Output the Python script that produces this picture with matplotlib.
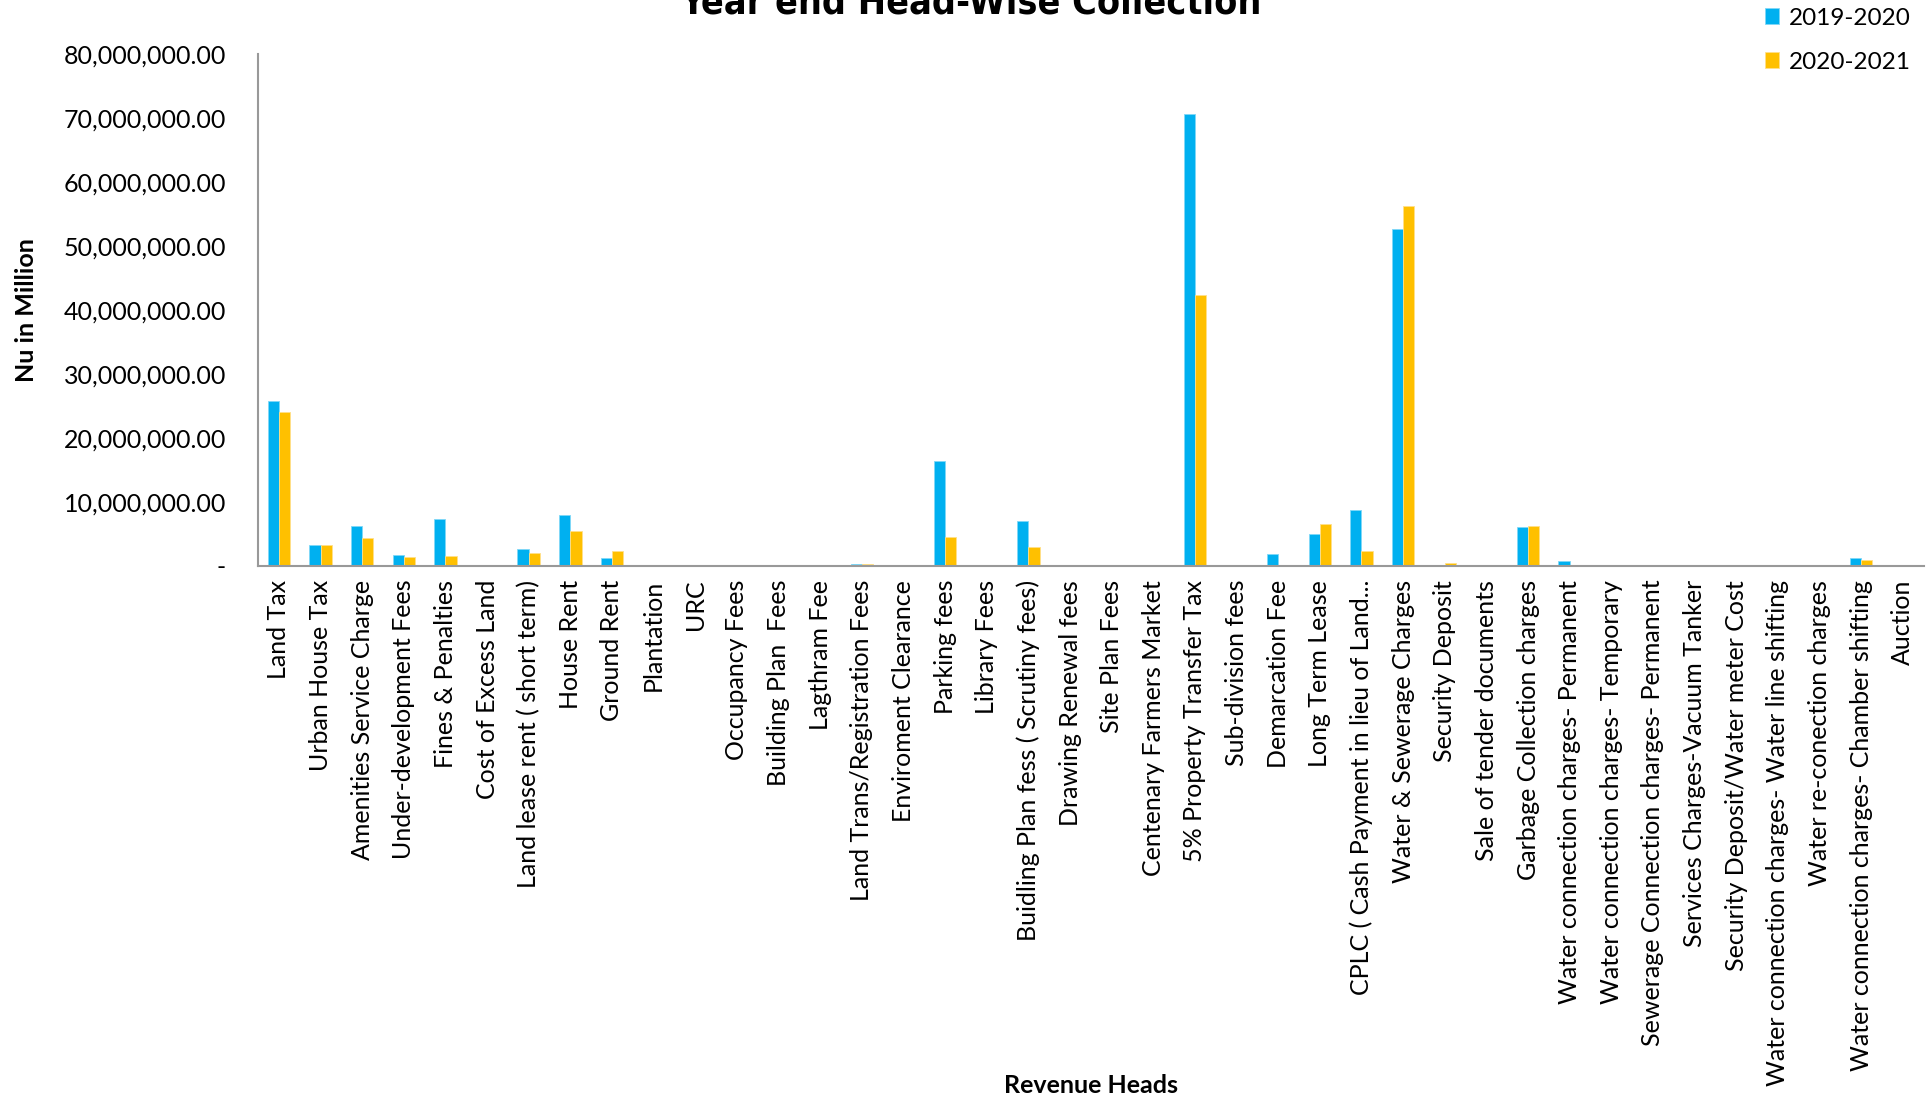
#!/usr/bin/env python3

import numpy as np
import matplotlib
matplotlib.use("Agg")
import matplotlib.pyplot as plt
from matplotlib.ticker import FuncFormatter

heads = [
    "Land Tax", "Urban House Tax", "Amenities Service Charge",
    "Under-development Fees", "Fines & Penalties", "Cost of Excess Land",
    "Land lease rent ( short term)", "House Rent", "Ground Rent",
    "Plantation", "URC", "Occupancy Fees", "Building Plan  Fees",
    "Lagthram Fee", "Land Trans/Registration Fees", "Enviroment Clearance",
    "Parking fees", "Library Fees", "Buidling Plan fess ( Scrutiny fees)",
    "Drawing Renewal fees", "Site Plan Fees", "Centenary Farmers Market",
    "5% Property Transfer Tax", "Sub-division fees", "Demarcation Fee",
    "Long Term Lease", "CPLC ( Cash Payment in lieu of Land...",
    "Water & Sewerage Charges", "Security Deposit",
    "Sale of tender documents", "Garbage Collection charges",
    "Water connection charges- Permanent",
    "Water connection charges- Temporary",
    "Sewerage Connection charges- Permanent",
    "Services Charges-Vacuum Tanker", "Security Deposit/Water meter Cost",
    "Water connection charges- Water line shifting",
    "Water re-conection charges",
    "Water connection charges- Chamber shifting", "Auction",
]

# values in Nu (in millions then scaled)
y2019_m = [25.8, 3.2, 6.25, 1.67, 7.3, 0.0, 2.65, 8.0, 1.25, 0.0,
           0.0, 0.15, 0.0, 0.05, 0.3, 0.03, 16.4, 0.0, 7.0, 0.0,
           0.0, 0.0, 70.6, 0.0, 1.9, 4.95, 8.7, 52.7, 0.0, 0.0,
           6.1, 0.8, 0.0, 0.0, 0.15, 0.12, 0.0, 0.0, 1.25, 0.0]
y2020_m = [24.0, 3.2, 4.3, 1.4, 1.6, 0.0, 2.0, 5.5, 2.4, 0.0,
           0.0, 0.15, 0.0, 0.05, 0.3, 0.05, 4.6, 0.0, 2.9, 0.0,
           0.0, 0.0, 42.3, 0.0, 0.15, 6.6, 2.4, 56.2, 0.5, 0.0,
           6.25, 0.1, 0.0, 0.05, 0.1, 0.0, 0.0, 0.0, 0.95, 0.0]
series = ["2019-2020", "2020-2021"]

y2019 = np.array(y2019_m) * 1e6
y2020 = np.array(y2020_m) * 1e6

blue = "#00B0F0"
gold = "#FFC000"

plt.rcParams["font.family"] = ["Lato", "DejaVu Sans"]

fig = plt.figure(figsize=(19.3, 11), dpi=100)
ax = fig.add_axes([0.1337, 0.4855, 0.863, 0.4654])

x = np.arange(len(heads))
w = 0.27
ax.bar(x - w / 2, y2019, w, color=blue, edgecolor="#7fd8f8", linewidth=0.6,
       label=series[0])
ax.bar(x + w / 2, y2020, w, color=gold, edgecolor="#ffe08a", linewidth=0.6,
       label=series[1])

ax.set_xlim(-0.5, len(heads) - 0.5)
ax.set_ylim(0, 80e6)
ax.set_yticks(np.arange(0, 80e6 + 1, 10e6))
ax.yaxis.set_major_formatter(
    FuncFormatter(lambda v, p: "-" if v == 0 else f"{v:,.2f}"))
ax.set_xticks(x)
ax.set_xticklabels(heads, rotation=90, fontsize=18)
ax.tick_params(axis="y", length=0, pad=23, labelsize=18)
ax.tick_params(axis="x", length=0, pad=10)

for s in ["top", "right"]:
    ax.spines[s].set_visible(False)
for s in ["left", "bottom"]:
    ax.spines[s].set_color("#999999")
    ax.spines[s].set_linewidth(1.5)

ax.set_ylabel("Nu in Million", fontsize=18, fontweight="bold")
ax.yaxis.set_label_coords(-0.132, 0.5)
fig.text(0.5655, 0.003, "Revenue Heads", fontsize=18, fontweight="bold",
         ha="center", va="bottom")

fig.text(0.503, 0.988, "Year end Head-Wise Collection", fontsize=27,
         fontweight="heavy", fontstretch="condensed",
         family=["DejaVu Sans", "Lato"], ha="center", va="baseline")

leg = fig.legend(loc="upper left", bbox_to_anchor=(0.903, 1.013),
                 frameon=False, fontsize=17.5, handlelength=0.6,
                 handleheight=0.6, handletextpad=0.4, labelspacing=0.95)

fig.savefig("out.png", dpi=100)
